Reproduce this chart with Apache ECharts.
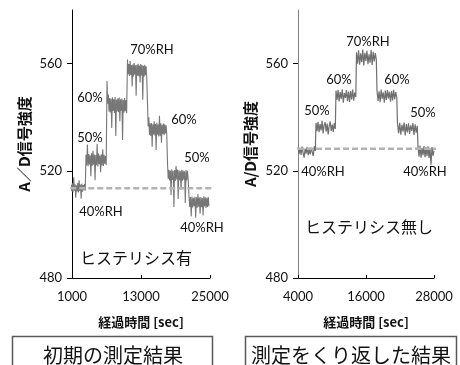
<!DOCTYPE html>
<html>
<head>
<meta charset="utf-8">
<script src="https://cdn.jsdelivr.net/npm/echarts@6/dist/echarts.min.js"></script>
<style>
  html, body { margin: 0; padding: 0; background: #fff; }
  #chart { width: 460px; height: 365px; }
</style>
</head>
<body>
<div id="chart"></div>
<script>
// Initial measurement: A/D readings for each humidity step (40→50→60→70→60→50→40 %RH)
const leftStepStart = [826, 3435, 7087, 10652, 14130, 17609, 21348];
const leftStepEnd   = [3300, 6950, 10500, 14000, 17480, 21200, 24826];
const leftReadings = [
  [514.8, 512.4, 515.3, 512.0, 517.6, 512.6, 515.0, 510.0, 514.6, 512.3, 515.4, 511.9, 516.5, 512.5, 514.9, 509.6, 515.2, 512.2, 514.7, 512.8, 515.1, 512.6],
  [526.0, 522.0, 529.8, 521.7, 526.3, 522.4, 525.8, 518.0, 526.5, 521.9, 527.5, 522.3, 526.1, 516.5, 525.9, 522.1, 530.0, 521.6, 526.4, 522.5, 525.7, 519.5, 526.2, 522.0, 528.0, 521.8, 526.0, 522.6, 525.5, 522.2],
  [553.5, 545.0, 548.5, 542.0, 547.2, 541.8, 546.9, 536.0, 547.4, 542.3, 546.8, 541.6, 547.5, 533.0, 546.6, 542.1, 547.1, 541.9, 547.3, 538.5, 546.7, 542.4, 547.0, 531.5, 546.5, 541.7, 547.2, 542.2, 546.4, 541.5],
  [561.5, 556.0, 559.8, 555.4, 561.0, 555.8, 559.5, 551.5, 559.7, 555.2, 560.2, 555.9, 559.4, 548.0, 559.6, 555.5, 559.9, 555.3, 559.3, 553.0, 559.8, 555.6, 559.5, 546.5, 559.2, 555.1, 559.6, 555.7, 559.0, 554.8],
  [545.0, 536.5, 540.0, 533.4, 537.6, 533.0, 537.8, 529.0, 537.4, 533.6, 538.5, 533.2, 537.5, 527.8, 537.9, 533.5, 537.3, 532.8, 540.5, 533.1, 537.7, 530.5, 537.2, 533.7, 537.6, 533.3, 537.4, 533.9, 537.0, 533.5],
  [522.8, 517.0, 520.4, 516.4, 520.1, 511.0, 520.6, 516.6, 520.0, 506.5, 520.3, 516.2, 521.8, 516.8, 520.5, 509.5, 520.2, 516.5, 519.9, 513.0, 520.4, 516.3, 520.1, 516.7, 519.8, 508.0, 520.3, 516.4, 520.0, 516.9],
  [510.6, 506.5, 510.2, 503.0, 510.4, 506.3, 509.9, 506.8, 510.3, 502.5, 510.1, 506.2, 511.3, 506.6, 510.0, 504.0, 510.2, 506.4, 509.8, 503.3, 510.5, 506.7, 510.1, 506.1, 509.9, 506.5, 510.2, 506.8]
];
const leftBaseline = 513.5;
const leftBaselineSpan = [700, 25350];

// Repeated measurement
const rightStepStart = [4000, 7177, 10706, 14324, 17941, 21559, 25177];
const rightStepEnd   = [7050, 10580, 14200, 17820, 21430, 25050, 28000];
const rightReadings = [
  [528.8, 526.2, 528.5, 525.9, 529.0, 526.7, 524.9, 528.3, 526.4, 528.9, 525.8, 528.0, 526.1, 528.6, 527.0, 525.5, 529.1, 527.4],
  [537.9, 534.8, 538.3, 534.4, 537.4, 535.1, 538.7, 533.9, 537.0, 538.1, 534.6, 537.6, 533.6, 536.8, 538.4, 534.9, 537.2, 534.5, 537.8, 535.6],
  [549.9, 546.5, 550.2, 545.9, 549.4, 546.8, 550.4, 545.4, 549.0, 547.2, 550.1, 546.0, 549.6, 545.7, 549.8, 546.6, 550.3, 546.2, 549.2, 547.5],
  [564.2, 560.0, 565.0, 559.6, 563.8, 560.5, 565.2, 559.3, 564.0, 561.0, 564.8, 559.8, 563.5, 560.3, 565.1, 559.5, 564.4, 560.8, 563.9, 561.5],
  [550.0, 546.1, 549.7, 545.6, 550.3, 546.9, 549.3, 545.4, 549.9, 546.4, 550.1, 547.0, 549.5, 545.8, 549.8, 546.3, 550.2, 546.7, 549.4, 547.4],
  [537.6, 534.0, 537.9, 533.5, 537.2, 534.6, 538.0, 533.2, 537.4, 534.3, 537.7, 533.8, 537.0, 534.9, 537.8, 533.4, 537.3, 534.2, 536.8],
  [529.0, 525.3, 529.4, 524.9, 528.6, 525.8, 529.2, 525.1, 528.8, 525.5, 529.1, 524.8, 528.4, 522.3, 528.9, 525.6, 527.5]
];
const rightBaseline = 528.2;
const rightBaselineSpan = [4000, 30400];

// Axis ticks
const leftTimeTicks = [1000, 13000, 25000];
const rightTimeTicks = [4000, 16000, 28000];
const signalTicks = [480, 520, 560];

// Spread each step's readings across its time window
function toPoints(starts, ends, readings) {
  const pts = [];
  readings.forEach((vals, k) => {
    const n = vals.length;
    vals.forEach((v, i) => {
      pts.push([starts[k] + (ends[k] - starts[k]) * i / (n - 1), v]);
    });
  });
  return pts;
}

const numFont = 'Lato, "Noto Sans CJK JP", sans-serif';
const jpFont = '"Noto Sans CJK JP", sans-serif';

function xAxisFor(idx, min, max, ticks) {
  return {
    gridIndex: idx, type: 'value', min: min, max: max,
    name: '経過時間 [sec]', nameLocation: 'middle', nameGap: 38,
    nameTextStyle: { fontFamily: jpFont, fontWeight: 'bold', fontSize: 13, color: '#111' },
    axisLine: { show: true, onZero: false, lineStyle: { color: '#000', width: 1 } },
    axisTick: { show: true, inside: true, length: 3, customValues: ticks, lineStyle: { color: '#000' } },
    axisLabel: { customValues: ticks, margin: 12, fontFamily: numFont, fontSize: 13, color: '#111',
                 formatter: v => String(v) },
    splitLine: { show: false }
  };
}
function yAxisFor(idx, title, lineColor) {
  return {
    gridIndex: idx, type: 'value', min: 480, max: 580,
    name: title, nameLocation: 'middle', nameGap: 40, nameRotate: 90,
    nameTextStyle: { fontFamily: jpFont, fontWeight: 'bold', fontSize: 15, color: '#111' },
    axisLine: { show: true, lineStyle: { color: lineColor, width: 1 } },
    axisTick: { show: true, length: 5, customValues: signalTicks, lineStyle: { color: '#000' } },
    axisLabel: { customValues: signalTicks, margin: 10, fontFamily: numFont, fontSize: 13, color: '#111' },
    splitLine: { show: false }
  };
}

function label(text, x, y, size, family) {
  return {
    type: 'text', x: x, y: y,
    style: { text: text, fontFamily: family || numFont, fontSize: size || 13, fill: '#111',
             align: 'center', verticalAlign: 'middle' }
  };
}

const chart = echarts.init(document.getElementById('chart'), null, { renderer: 'canvas' });
chart.setOption({
  animation: false,
  backgroundColor: '#fff',
  grid: [
    { left: 72, top: 10, width: 138, height: 268 },
    { left: 298, top: 10, width: 136, height: 268 }
  ],
  xAxis: [xAxisFor(0, 1000, 25000, leftTimeTicks), xAxisFor(1, 4000, 28000, rightTimeTicks)],
  yAxis: [yAxisFor(0, 'A／D信号強度', '#000'), yAxisFor(1, 'A/D信号強度', '#7f7f7f')],
  series: [
    {
      type: 'line', xAxisIndex: 0, yAxisIndex: 0, symbol: 'none',
      data: toPoints(leftStepStart, leftStepEnd, leftReadings),
      lineStyle: { color: '#777777', width: 1.1 }, clip: false
    },
    {
      type: 'line', xAxisIndex: 1, yAxisIndex: 1, symbol: 'none',
      data: toPoints(rightStepStart, rightStepEnd, rightReadings),
      lineStyle: { color: '#707070', width: 1.2 }, clip: false
    },
    {
      type: 'line', xAxisIndex: 0, yAxisIndex: 0, symbol: 'none', clip: false,
      data: leftBaselineSpan.map(t => [t, leftBaseline]),
      lineStyle: { color: '#b3b3b3', width: 2.5, type: [6, 3] }
    },
    {
      type: 'line', xAxisIndex: 1, yAxisIndex: 1, symbol: 'none', clip: false,
      data: rightBaselineSpan.map(t => [t, rightBaseline]),
      lineStyle: { color: '#b3b3b3', width: 2.5, type: [6, 3] }
    }
  ],
  graphic: [
    label('70%RH', 152, 50),
    label('60%', 90, 98),
    label('50%', 90, 138),
    label('60%', 184, 120),
    label('50%', 197, 158),
    label('40%RH', 101, 212),
    label('40%RH', 202, 228),
    label('ヒステリシス有', 136, 258, 16, jpFont),

    label('70%RH', 368, 42),
    label('60%', 339, 80),
    label('60%', 397, 80),
    label('50%', 317, 111),
    label('50%', 423, 113),
    label('40%RH', 323, 172),
    label('40%RH', 425, 172),
    label('ヒステリシス無し', 369, 227, 16, jpFont),

    { type: 'rect', shape: { x: 12.5, y: 336.5, width: 200, height: 40 },
      style: { fill: 'none', stroke: '#595959', lineWidth: 1.5 } },
    label('初期の測定結果', 113, 355, 20, jpFont),
    { type: 'rect', shape: { x: 245.5, y: 336.5, width: 211, height: 40 },
      style: { fill: 'none', stroke: '#595959', lineWidth: 1.5 } },
    label('測定をくり返した結果', 351, 355, 20, jpFont)
  ]
});
</script>
</body>
</html>
